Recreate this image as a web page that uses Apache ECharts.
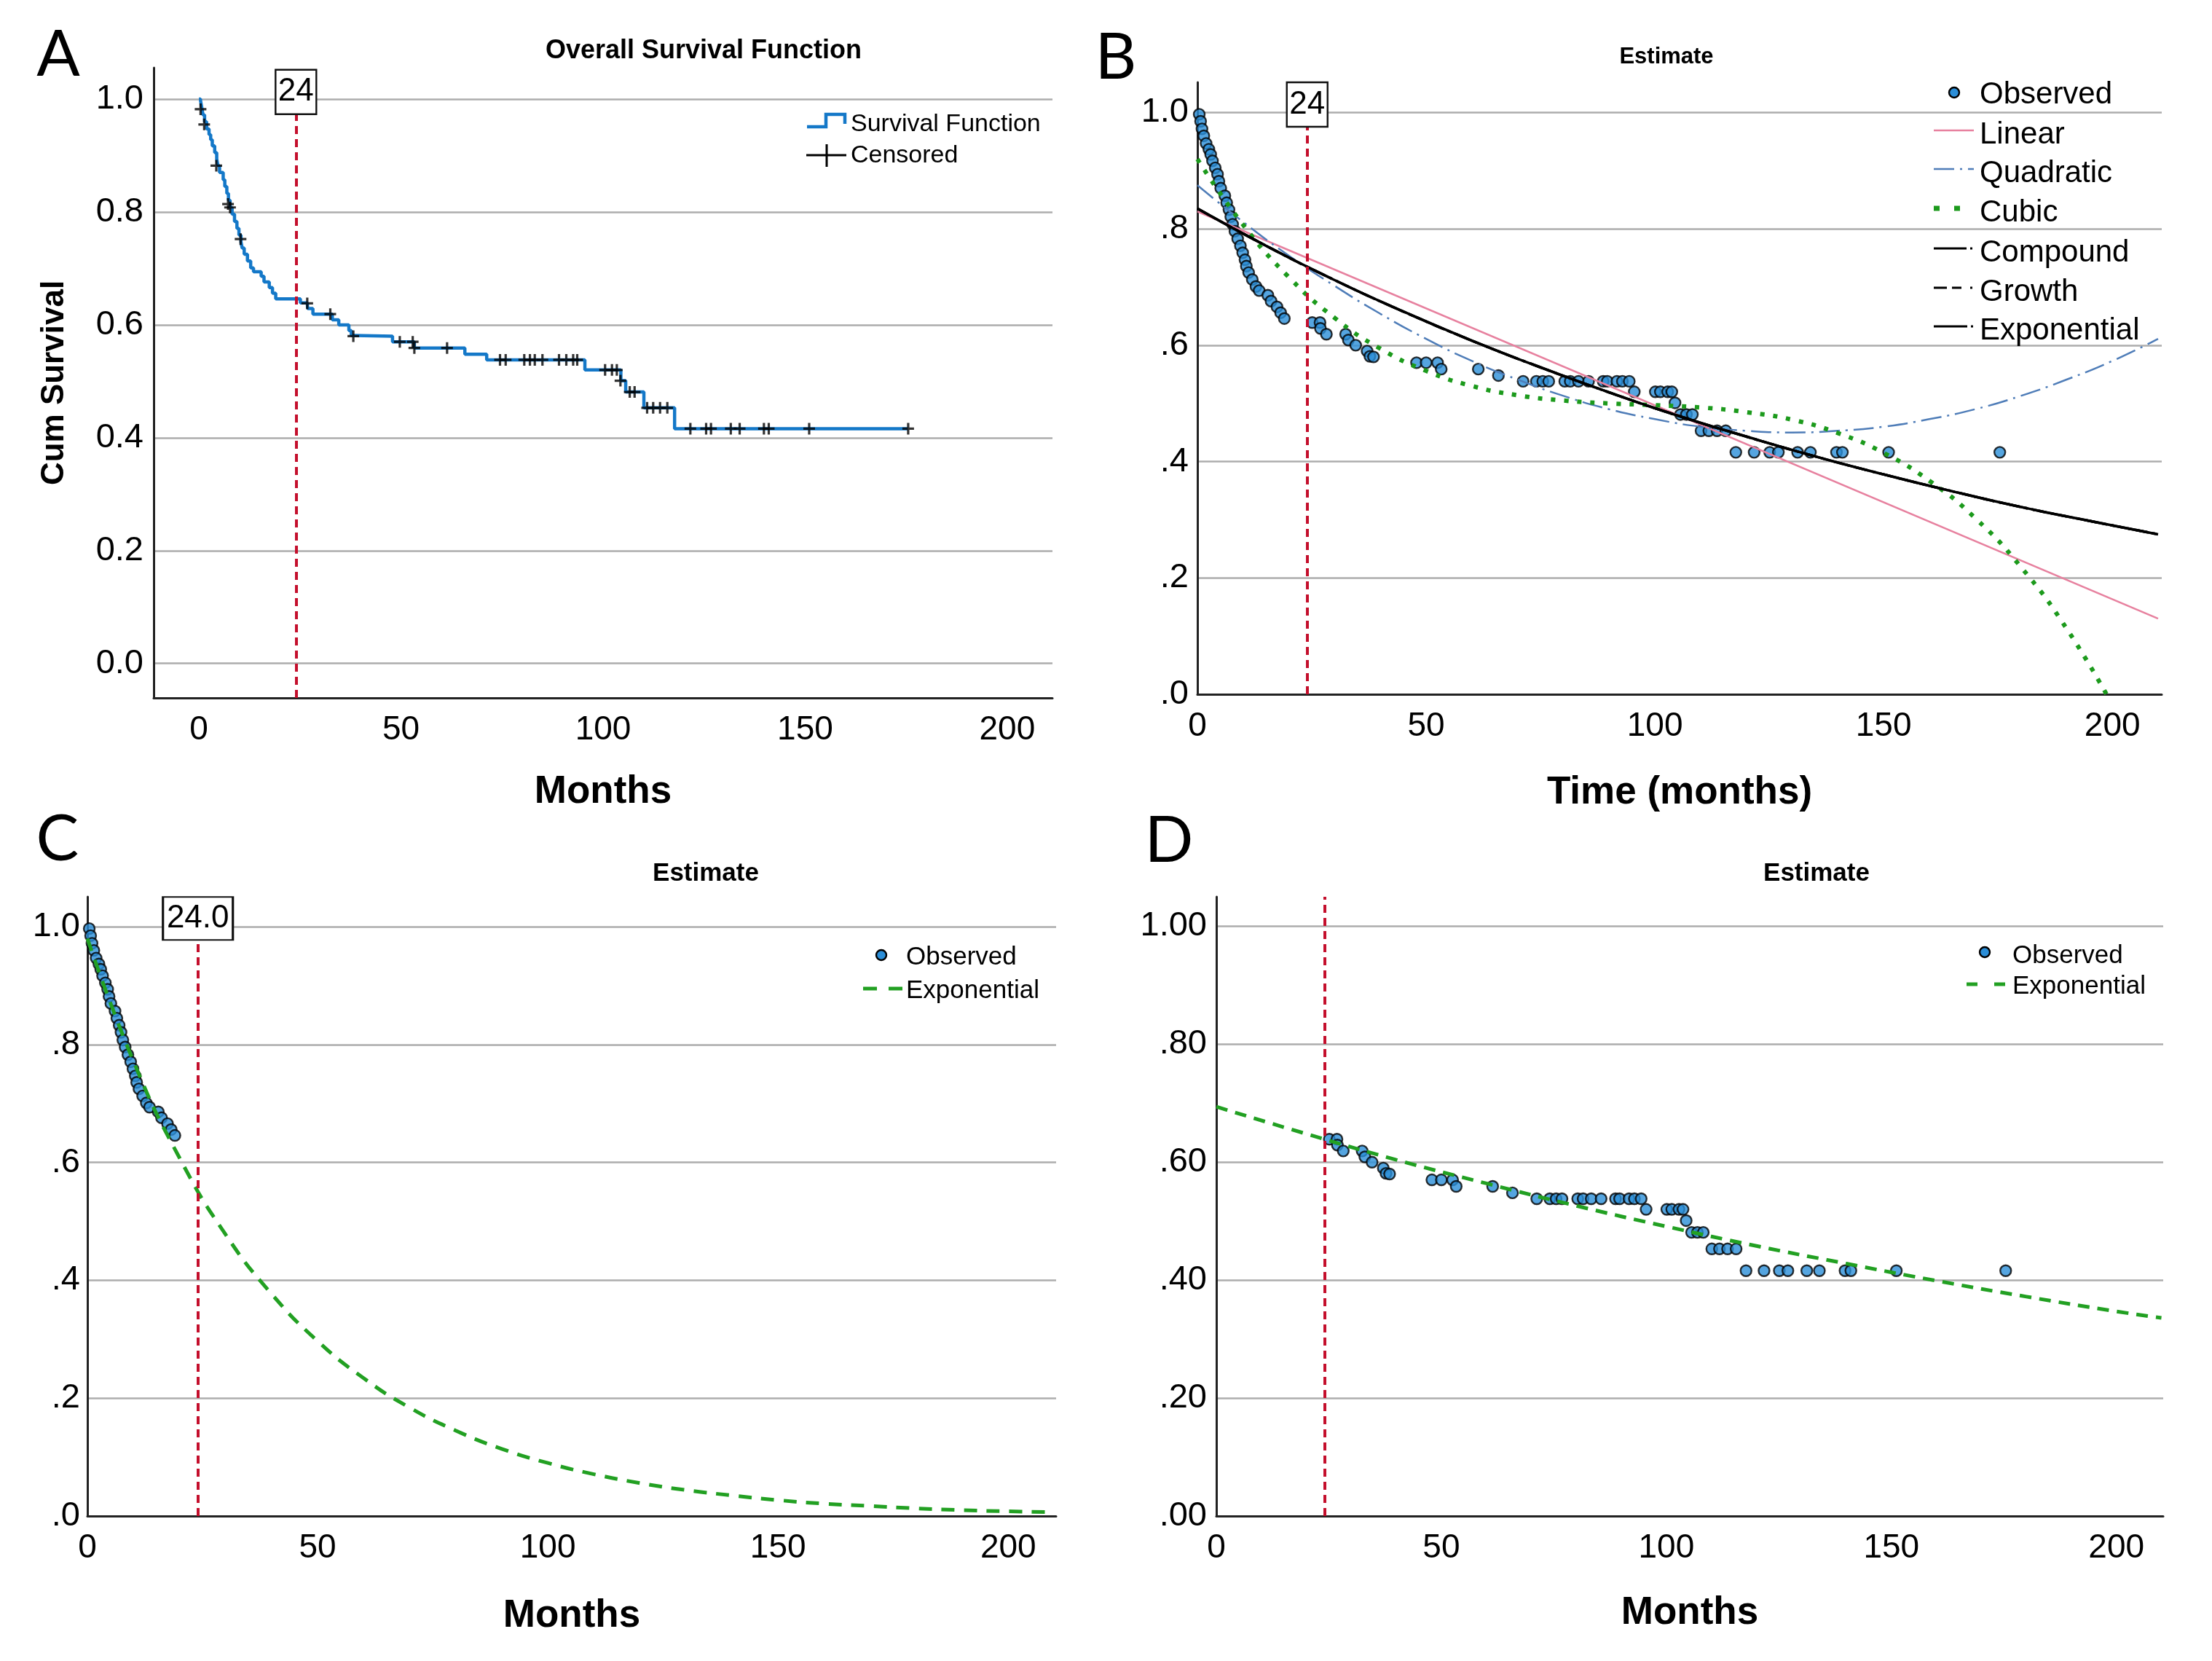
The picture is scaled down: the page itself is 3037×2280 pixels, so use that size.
<!DOCTYPE html>
<html><head><meta charset="utf-8">
<script src="https://cdn.jsdelivr.net/npm/echarts@6/dist/echarts.min.js"></script>
<style>html,body{margin:0;padding:0;background:#fff}#c{width:3037px;height:2280px}</style>
</head><body><div id="c"></div>
<script>
// ---------- data ----------
const xTicks = [0, 50, 100, 150, 200];
const yTicks = [0, 0.2, 0.4, 0.6, 0.8, 1.0];
const refMonth = 24;

// observed Kaplan-Meier estimates (months, cumulative survival)
const obsMonths = [
  0.4, 0.7, 1.0, 1.4, 1.9, 2.5, 2.9, 3.3, 3.9, 4.4, 4.7, 5.1, 6.0, 6.4, 6.9, 7.3, 7.7, 8.2, 8.8, 9.4, 9.9, 10.4, 10.7, 11.2, 12.0, 12.8, 13.5, 15.4, 16.1, 17.4, 18.2, 19.0,
  25.1, 26.8, 26.9, 28.2, 32.4, 33.0, 34.6, 37.1, 37.7, 38.5, 47.9, 50.0, 52.5, 53.3, 61.4, 65.8,
  71.2, 74.1, 75.5, 76.8, 80.3, 81.5, 83.3, 85.5, 88.7, 89.6, 91.7, 92.9, 94.4,
  95.5, 100.1, 101.2, 102.8, 103.7, 104.4, 105.6, 106.9, 108.2, 110.1, 111.8, 113.6, 115.5,
  117.7, 121.7, 125.1, 127.0, 131.2, 134.0, 139.7, 141.0, 151.1, 175.4];
const obsSurv = [
  0.997, 0.985, 0.972, 0.960, 0.947, 0.937, 0.928, 0.917, 0.905, 0.894, 0.882, 0.870, 0.857, 0.845, 0.833, 0.821, 0.808, 0.796, 0.783, 0.771, 0.759, 0.747, 0.736, 0.725, 0.713, 0.701, 0.694, 0.686, 0.676, 0.666, 0.656, 0.646,
  0.639, 0.639, 0.629, 0.619, 0.619, 0.609, 0.600, 0.590, 0.581, 0.580, 0.570, 0.570, 0.570, 0.559, 0.559, 0.548,
  0.538, 0.538, 0.538, 0.538, 0.538, 0.538, 0.538, 0.538, 0.538, 0.538, 0.538, 0.538, 0.538,
  0.520, 0.520, 0.520, 0.520, 0.520, 0.501, 0.481, 0.481, 0.481, 0.453, 0.453, 0.453, 0.453,
  0.416, 0.416, 0.416, 0.416, 0.416, 0.416, 0.416, 0.416, 0.416, 0.416];
const kmStartMonth = 0, kmStartSurv = 1.0;

// censored marks (panel A)
const censMonths = [0.4, 1.3, 4.3, 7.2, 7.7, 10.3, 26.8, 32.5, 38.2, 49.7, 52.9, 53.3, 61.4,
  74.5, 75.9, 80.5, 81.9, 83.1, 85.0, 89.1, 90.9, 92.6, 93.6, 100.5, 102.2, 103.4, 104.3,
  106.6, 107.8, 110.9, 112.4, 114.1, 115.9, 121.6, 125.5, 126.7, 131.6, 133.8, 139.8, 141.0, 151.0, 175.5];
const censSurv = [0.982, 0.955, 0.882, 0.814, 0.808, 0.752, 0.638, 0.619, 0.580, 0.570, 0.570, 0.559, 0.559,
  0.538, 0.538, 0.538, 0.538, 0.538, 0.538, 0.538, 0.538, 0.538, 0.538, 0.520, 0.520, 0.520, 0.501,
  0.481, 0.481, 0.453, 0.453, 0.453, 0.453, 0.416, 0.416, 0.416, 0.416, 0.416, 0.416, 0.416, 0.416, 0.416];

// fitted curves (panel B)
const fitMonths = [0, 10, 20, 30, 40, 50, 60, 70, 80, 90, 100, 110, 120, 130, 140, 150, 160, 170, 180, 190, 200, 210];
const linearMonths = [0, 210];
const linearFit = [0.83, 0.13];
const quadraticFit = [0.875, 0.812, 0.754, 0.702, 0.654, 0.611, 0.573, 0.541, 0.513, 0.490, 0.473, 0.460, 0.453, 0.450, 0.453, 0.460, 0.473, 0.490, 0.513, 0.541, 0.573, 0.611];
const cubicMonths = [0, 10, 20, 30, 40, 50, 60, 70, 80, 90, 100, 110, 120, 130, 140, 150, 160, 170, 180, 190, 200];
const cubicFit = [0.920, 0.807, 0.717, 0.647, 0.594, 0.556, 0.530, 0.514, 0.505, 0.500, 0.497, 0.493, 0.485, 0.472, 0.449, 0.415, 0.367, 0.303, 0.219, 0.113, -0.018];
const expMonthsB = [0, 15, 30, 45, 60, 75, 90, 105, 120, 135, 150, 165, 180, 195, 210];
const expFitB = [0.835, 0.771, 0.712, 0.658, 0.608, 0.562, 0.519, 0.479, 0.443, 0.409, 0.378, 0.349, 0.322, 0.298, 0.275];
// panel C exponential (fit on first 24 months)
const expFitC = [0.980, 0.772, 0.608, 0.478, 0.377, 0.297, 0.234, 0.184, 0.145, 0.114, 0.090, 0.071, 0.056, 0.044, 0.035, 0.027, 0.021, 0.017, 0.013, 0.010, 0.008, 0.0065];
// panel D exponential (fit after 24 months)
const expMonthsD = [0, 20, 40, 60, 80, 100, 120, 140, 160, 180, 200, 210];
const expFitD = [0.694, 0.648, 0.604, 0.564, 0.526, 0.491, 0.458, 0.428, 0.399, 0.372, 0.347, 0.336];

// ---------- build ----------
const F = '"Liberation Sans", Arial, Helvetica, sans-serif';
const pair = (xs, ys) => xs.map((x, i) => [x, ys[i]]);
const obsAll = pair(obsMonths, obsSurv);
const obsEarly = obsAll.filter(p => p[0] < refMonth);
const obsLate = obsAll.filter(p => p[0] >= refMonth);
const kmStep = [[kmStartMonth, kmStartSurv]].concat(obsAll);

const RED = '#c40f2c', BLUE_DOT = '#2b8ed8', GRID = '#adadad';

function xAx(gi, min, max, name, gap) {
  return {type: 'value', gridIndex: gi, min, max, name, nameLocation: 'middle', nameGap: gap,
    nameTextStyle: {fontFamily: F, fontSize: 53, fontWeight: 'bold', color: '#000', verticalAlign: 'middle'},
    axisLine: {show: true, onZero: false, lineStyle: {color: '#222', width: 3}},
    axisTick: {show: false, customValues: xTicks},
    axisLabel: {customValues: xTicks, fontFamily: F, fontSize: 46, color: '#000', margin: 21},
    splitLine: {show: false}};
}
function yAx(gi, min, max, fmt, margin, name, gap) {
  const o = {type: 'value', gridIndex: gi, min, max,
    axisLine: {show: true, onZero: false, lineStyle: {color: '#222', width: 3}},
    axisTick: {show: false, customValues: yTicks},
    axisLabel: {customValues: yTicks, fontFamily: F, fontSize: 47, color: '#000', margin, formatter: fmt},
    splitLine: {show: true, lineStyle: {color: GRID, width: 2.5}}};
  if (name) {
    Object.assign(o, {name, nameLocation: 'middle', nameGap: gap,
      nameTextStyle: {fontFamily: F, fontSize: 44, fontWeight: 'bold', color: '#000', verticalAlign: 'middle'}});
  }
  return o;
}
const fmtA = v => v.toFixed(1);
const fmtB = v => v === 1 ? '1.0' : '.' + Math.round(v * 10);
const fmtD = v => v === 1 ? '1.00' : '.' + String(Math.round(v * 100)).padStart(2, '0');

function refLine(y0, y1) {
  return {silent: true, symbol: ['none', 'none'], label: {show: false}, animation: false,
    lineStyle: {color: RED, width: 4, type: [11, 7]},
    data: [[{coord: [refMonth, y0]}, {coord: [refMonth, y1]}]]};
}
function refBox(yv, w, h, text) {
  return {silent: true, symbol: 'rect', symbolSize: [w, h], animation: false,
    itemStyle: {color: '#fff', borderColor: '#111', borderWidth: 2.5},
    label: {show: true, position: 'inside', formatter: text, fontFamily: F, fontSize: 44, color: '#000'},
    data: [{coord: [refMonth, yv], value: refMonth}]};
}
const obsStyle = {color: BLUE_DOT, borderColor: '#000', borderWidth: 2.4};
const DOT = 15;

const series = [
  // A
  {type: 'line', name: 'Survival Function', xAxisIndex: 0, yAxisIndex: 0, data: kmStep, step: 'end',
   symbol: 'none', lineStyle: {color: '#1478c8', width: 4.5}, z: 3,
   markLine: refLine(-0.061, 0.973), markPoint: refBox(1.0125, 56, 61, String(refMonth))},
  {type: 'scatter', name: 'Censored', xAxisIndex: 0, yAxisIndex: 0, data: pair(censMonths, censSurv),
   symbol: 'path://M0,6H15V9H0Z M6,0H9V15H6Z', symbolSize: 16,
   itemStyle: {color: '#000', borderWidth: 0}, z: 4},
  // B
  {type: 'scatter', name: 'Observed', xAxisIndex: 1, yAxisIndex: 1, data: obsAll, symbolSize: DOT, itemStyle: obsStyle, z: 2},
  {type: 'line', name: 'Linear', xAxisIndex: 1, yAxisIndex: 1, data: pair(linearMonths, linearFit), symbol: 'none',
   lineStyle: {color: '#e7819f', width: 2.5}, z: 3,
   markLine: refLine(0, 0.976), markPoint: refBox(1.0138, 56, 61, String(refMonth))},
  {type: 'line', name: 'Quadratic', xAxisIndex: 1, yAxisIndex: 1, data: pair(fitMonths, quadraticFit), symbol: 'none', smooth: true,
   lineStyle: {color: '#4f7db8', width: 2.5, type: [28, 8, 3, 8]}, z: 3},
  {type: 'line', name: 'Cubic', xAxisIndex: 1, yAxisIndex: 1, data: pair(cubicMonths, cubicFit), symbol: 'none', smooth: true,
   lineStyle: {color: '#1c9a1c', width: 6, type: [6, 12], cap: 'butt'}, z: 3},
  {type: 'line', name: 'Exponential', xAxisIndex: 1, yAxisIndex: 1, data: pair(expMonthsB, expFitB), symbol: 'none', smooth: true,
   lineStyle: {color: '#000', width: 3.5}, z: 3},
  {type: 'line', name: 'Growth', xAxisIndex: 1, yAxisIndex: 1, data: pair(expMonthsB, expFitB), symbol: 'none', smooth: true,
   lineStyle: {color: '#000', width: 3.5, type: [18, 7, 4, 7]}, z: 3},
  {type: 'line', name: 'Compound', xAxisIndex: 1, yAxisIndex: 1, data: pair(expMonthsB, expFitB), symbol: 'none', smooth: true,
   lineStyle: {color: '#000', width: 3.5, type: [40, 6, 4, 6]}, z: 3},
  // C
  {type: 'scatter', name: 'Observed', xAxisIndex: 2, yAxisIndex: 2, data: obsEarly, symbolSize: DOT, itemStyle: obsStyle, z: 2},
  {type: 'line', name: 'Exponential', xAxisIndex: 2, yAxisIndex: 2, data: pair(fitMonths, expFitC), symbol: 'none', smooth: true,
   lineStyle: {color: '#22a022', width: 5, type: [18, 13]}, z: 3,
   markLine: refLine(0, 0.978), markPoint: refBox(1.0142, 96, 59, refMonth.toFixed(1))},
  // D
  {type: 'scatter', name: 'Observed', xAxisIndex: 3, yAxisIndex: 3, data: obsLate, symbolSize: DOT, itemStyle: obsStyle, z: 2},
  {type: 'line', name: 'Exponential', xAxisIndex: 3, yAxisIndex: 3, data: pair(expMonthsD, expFitD), symbol: 'none', smooth: true,
   lineStyle: {color: '#22a022', width: 5, type: [16, 11]}, z: 3,
   markLine: refLine(0, 1.05)}
];

// ---------- legends (drawn as graphic elements) ----------
const G = [];
const txt = (x, y, t, size) => G.push({type: 'text', x, y, z: 20,
  style: {text: t, fill: '#000', font: size + 'px ' + F, verticalAlign: 'middle', align: 'left'}});
const seg = (x1, y1, x2, y2, color, w, dash) => G.push({type: 'line', z: 20,
  shape: {x1, y1, x2, y2}, style: {stroke: color, lineWidth: w, lineDash: dash || null, lineCap: 'butt'}});
const dot = (cx, cy) => G.push({type: 'circle', z: 20, shape: {cx, cy, r: 7},
  style: {fill: BLUE_DOT, stroke: '#000', lineWidth: 2.4}});
// A
G.push({type: 'polyline', z: 20, shape: {points: [[1108, 174], [1134, 174], [1134, 157], [1160, 157], [1160, 170]]},
  style: {stroke: '#1478c8', lineWidth: 4.5, fill: null}});
txt(1168, 171, 'Survival Function', 34);
seg(1107, 213, 1162, 213, '#000', 3);
seg(1135, 198, 1135, 229, '#000', 3);
txt(1168, 214, 'Censored', 34);
// B
const bx = 2718, bRows = [130, 185, 238, 292, 347, 401, 454];
dot(2683, 127); txt(bx, bRows[0], 'Observed', 42);
seg(2655, 179, 2710, 179, '#e7819f', 2.5); txt(bx, bRows[1], 'Linear', 42);
seg(2655, 232, 2710, 232, '#4f7db8', 2.5, [28, 8, 3, 8]); txt(bx, bRows[2], 'Quadratic', 42);
seg(2655, 286, 2694, 286, '#1c9a1c', 7, [8, 20]); txt(bx, bRows[3], 'Cubic', 42);
seg(2655, 341, 2710, 341, '#000', 3, [45, 5, 3, 10]); txt(bx, bRows[4], 'Compound', 42);
seg(2655, 395, 2710, 395, '#000', 3, [18, 7, 13, 12, 3, 10]); txt(bx, bRows[5], 'Growth', 42);
seg(2655, 448, 2710, 448, '#000', 3, [46, 5, 3, 10]); txt(bx, bRows[6], 'Exponential', 42);
// C
dot(1210, 1311); txt(1244, 1314, 'Observed', 35);
seg(1185, 1357, 1239, 1357, '#22a022', 5, [19, 16]); txt(1244, 1360, 'Exponential', 35);
// D
dot(2725, 1307); txt(2763, 1312, 'Observed', 35);
seg(2700, 1351, 2754, 1351, '#22a022', 5, [15, 23]); txt(2763, 1354, 'Exponential', 35);

const T = (text, left, top, size, bold, fam) => ({text, left, top, padding: 0, textAlign: 'center', textVerticalAlign: 'middle',
  textStyle: {fontFamily: fam || F, fontSize: size, fontWeight: bold ? 'bold' : 'normal', color: '#000'}});

const option = {
  animation: false,
  backgroundColor: '#fff',
  title: [
    T('A', 80, 76, 88, false, 'Lato, "Open Sans", sans-serif'),
    T('B', 1532, 80, 88, false, 'Lato, "Open Sans", sans-serif'),
    T('C', 79, 1153, 88, false, 'Lato, "Open Sans", sans-serif'),
    T('D', 1605, 1155, 88, false, 'Lato, "Open Sans", sans-serif'),
    T('Overall Survival Function', 966, 70, 36, true),
    T('Estimate', 2288, 78, 31, true),
    T('Estimate', 969, 1199, 35, true),
    T('Estimate', 2494, 1199, 35, true)
  ],
  grid: [
    {left: 211, top: 93, width: 1234, height: 865},
    {left: 1644, top: 113, width: 1324, height: 840},
    {left: 120, top: 1231, width: 1330, height: 850},
    {left: 1670, top: 1231, width: 1300, height: 850}
  ],
  xAxis: [
    xAx(0, -11.2, 211.2, 'Months', 129),
    xAx(1, 0, 210.8, 'Time (months)', 135),
    xAx(2, 0, 210.4, 'Months', 137),
    xAx(3, 0, 210.4, 'Months', 133)
  ],
  yAxis: [
    yAx(0, -0.061, 1.0555, fmtA, 14, 'Cum Survival', 136),
    yAx(1, 0, 1.052, fmtB, 12),
    yAx(2, 0, 1.051, fmtB, 10),
    yAx(3, 0, 1.05, fmtD, 13)
  ],
  series,
  graphic: G
};
echarts.init(document.getElementById('c'), null, {renderer: 'canvas'}).setOption(option);
</script></body></html>
